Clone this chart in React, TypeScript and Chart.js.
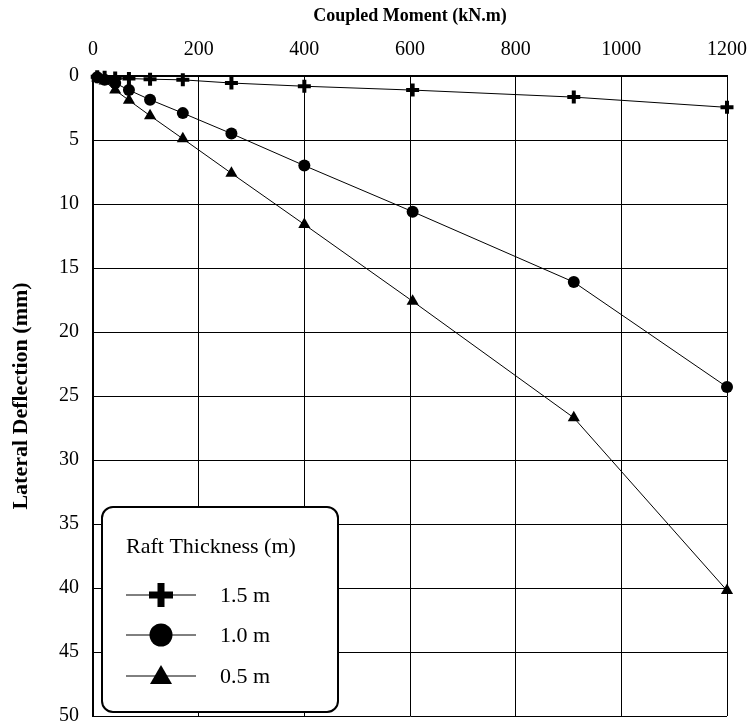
import React, { useEffect, useRef } from 'react';
import { Chart, registerables } from 'chart.js';

Chart.register(...registerables);

// Coupled moment (kN.m)
const moments = [8, 22, 42, 68, 108, 170, 262, 400, 605, 910, 1200];
// Lateral deflection (mm) for each raft thickness
const defl15 = [0.05, 0.1, 0.15, 0.2, 0.25, 0.3, 0.55, 0.8, 1.1, 1.65, 2.45];
const defl10 = [0.1, 0.3, 0.55, 1.1, 1.85, 2.9, 4.5, 7.0, 10.6, 16.1, 24.3];
const defl05 = [0.15, 0.4, 1.1, 1.9, 3.1, 4.9, 7.6, 11.6, 17.6, 26.7, 40.2];

const seriesLabels = ['1.5 m', '1.0 m', '0.5 m'];
const legendTitle = 'Raft Thickness (m)';
const xTitle = 'Coupled Moment (kN.m)';
const yTitle = 'Lateral Deflection (mm)';

const FONT = "'Liberation Serif', 'Times New Roman', serif";

function toPoints(ys: number[]) {
  return moments.map((x, i) => ({ x, y: ys[i] }));
}

export default function App() {
  const ref = useRef<HTMLCanvasElement>(null);

  useEffect(() => {
    document.body.style.margin = '0';
    const canvas = ref.current;
    if (!canvas) return;

    const legendPlugin = {
      id: 'customLegend',
      afterDraw(chart: any) {
        const ctx = chart.ctx as CanvasRenderingContext2D;
        const x0 = 102, y0 = 507, x1 = 338, y1 = 712, r = 11;
        ctx.save();
        ctx.beginPath();
        ctx.moveTo(x0 + r, y0);
        ctx.lineTo(x1 - r, y0);
        ctx.arcTo(x1, y0, x1, y0 + r, r);
        ctx.lineTo(x1, y1 - r);
        ctx.arcTo(x1, y1, x1 - r, y1, r);
        ctx.lineTo(x0 + r, y1);
        ctx.arcTo(x0, y1, x0, y1 - r, r);
        ctx.lineTo(x0, y0 + r);
        ctx.arcTo(x0, y0, x0 + r, y0, r);
        ctx.closePath();
        ctx.fillStyle = '#fff';
        ctx.fill();
        ctx.lineWidth = 2;
        ctx.strokeStyle = '#000';
        ctx.stroke();

        ctx.fillStyle = '#000';
        ctx.font = `22px ${FONT}`;
        ctx.textBaseline = 'alphabetic';
        ctx.textAlign = 'left';
        ctx.fillText(legendTitle, 126, 553);

        const rows = [595, 635, 676];
        rows.forEach((cy, i) => {
          ctx.beginPath();
          ctx.lineWidth = 1;
          ctx.moveTo(126, cy);
          ctx.lineTo(196, cy);
          ctx.stroke();
          const cx = 161;
          if (i === 0) {
            ctx.lineWidth = 7;
            ctx.beginPath();
            ctx.moveTo(cx - 12, cy);
            ctx.lineTo(cx + 12, cy);
            ctx.moveTo(cx, cy - 12);
            ctx.lineTo(cx, cy + 12);
            ctx.stroke();
          } else if (i === 1) {
            ctx.beginPath();
            ctx.arc(cx, cy, 11.5, 0, Math.PI * 2);
            ctx.fill();
          } else {
            ctx.beginPath();
            ctx.moveTo(cx, cy - 11);
            ctx.lineTo(cx + 11, cy + 8);
            ctx.lineTo(cx - 11, cy + 8);
            ctx.closePath();
            ctx.fill();
          }
          ctx.font = `22px ${FONT}`;
          ctx.textBaseline = 'middle';
          ctx.fillText(seriesLabels[i], 220, cy + 1);
        });
        ctx.restore();
      },
    };

    const common = {
      showLine: true,
      borderColor: '#000',
      backgroundColor: '#000',
      borderWidth: 1,
      clip: false as any,
    };

    const zeroPad = (s: any) => {
      s.paddingLeft = 0;
      s.paddingRight = 0;
      s.paddingTop = 0;
      s.paddingBottom = 0;
    };

    const chart = new Chart(canvas, {
      type: 'scatter',
      data: {
        datasets: [
          {
            ...common,
            label: seriesLabels[0],
            data: toPoints(defl15),
            pointStyle: 'cross',
            pointRadius: 6.5,
            pointBorderWidth: 4,
            pointBorderColor: '#000',
          },
          {
            ...common,
            label: seriesLabels[1],
            data: toPoints(defl10),
            pointStyle: 'circle',
            pointRadius: 6,
            pointBorderWidth: 0,
            pointBackgroundColor: '#000',
          },
          {
            ...common,
            label: seriesLabels[2],
            data: toPoints(defl05),
            pointStyle: 'triangle',
            pointRadius: 7,
            pointBorderWidth: 0,
            pointBackgroundColor: '#000',
          },
        ],
      },
      options: {
        animation: false,
        responsive: false,
        layout: { padding: { left: 0, top: 0, right: 23, bottom: 12 } },
        plugins: { legend: { display: false }, tooltip: { enabled: false } },
        scales: {
          x: {
            type: 'linear',
            position: 'top',
            min: 0,
            max: 1200,
            ticks: {
              stepSize: 200,
              color: '#000',
              font: { family: FONT, size: 20 },
              padding: 14,
              maxRotation: 0,
              callback: (v: any) => String(v),
            },
            grid: { color: '#000', lineWidth: 1, drawTicks: false },
            border: { color: '#000', width: 2 },
            title: {
              display: true,
              text: xTitle,
              color: '#000',
              font: { family: FONT, size: 18, weight: 'bold' },
              padding: { top: 6, bottom: 0 },
            },
            afterFit: (s: any) => {
              s.height = 76;
              zeroPad(s);
            },
          },
          y: {
            type: 'linear',
            reverse: true,
            min: 0,
            max: 50,
            ticks: {
              stepSize: 5,
              color: '#000',
              font: { family: FONT, size: 20 },
              padding: 14,
              callback: (v: any) => String(v),
            },
            grid: { color: '#000', lineWidth: 1, drawTicks: false },
            border: { color: '#000', width: 2 },
            title: {
              display: true,
              text: yTitle,
              color: '#000',
              font: { family: FONT, size: 22, weight: 'bold' },
              padding: { top: 8, bottom: 0 },
            },
            afterFit: (s: any) => {
              s.width = 93;
              zeroPad(s);
            },
          },
        },
      },
      plugins: [legendPlugin],
    } as any);

    return () => chart.destroy();
  }, []);

  return <canvas ref={ref} width={750} height={728} style={{ display: 'block' }} />;
}
